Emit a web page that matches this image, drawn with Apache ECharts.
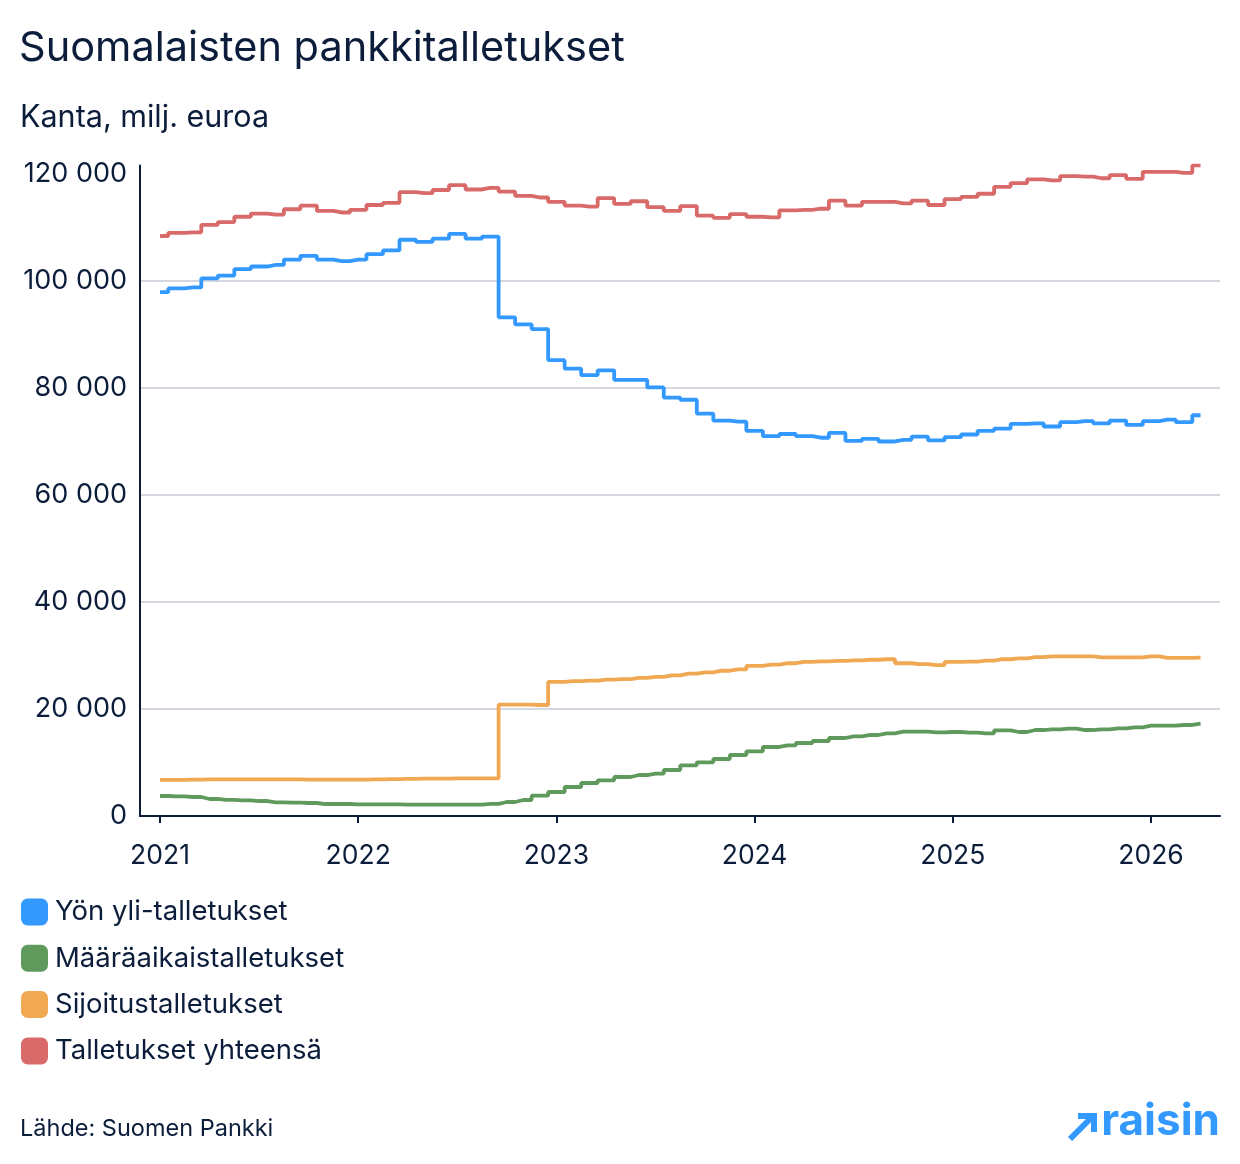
<!DOCTYPE html>
<html><head><meta charset="utf-8">
<script src="https://cdn.jsdelivr.net/npm/echarts@6/dist/echarts.min.js"></script>
<style>html,body{margin:0;padding:0;background:#fff}#c{width:1240px;height:1164px}</style>
</head><body><div id="c"></div>
<script>
// Monthly, Jan 2021 .. Apr 2026 (64 months)
const startYear = 2021;
const yearTicks = [2021, 2022, 2023, 2024, 2025, 2026];
const yTicks = [0, 20000, 40000, 60000, 80000, 100000, 120000];
const seriesNames = ['Yön yli-talletukset', 'Määräaikaistalletukset', 'Sijoitustalletukset', 'Talletukset yhteensä'];

const yonYli = [97900,98600,98800,100500,101000,102200,102700,103000,104000,104700,
  104000,103700,104000,105000,105700,107700,107300,107900,108800,107900,
  108300,93200,91900,91000,85200,83600,82400,83300,81500,81500,
  80100,78200,77800,75200,73900,73700,72000,71000,71400,71000,
  70700,71600,70100,70500,70000,70300,70900,70200,70800,71300,
  72000,72400,73300,73400,72800,73600,73800,73400,73900,73100,
  73800,74100,73600,74900];
const maaraaikais = [3740,3680,3550,3180,3000,2930,2800,2550,2490,2430,
  2240,2240,2180,2180,2180,2120,2120,2120,2120,2120,
  2250,2620,2990,3800,4490,5420,6170,6670,7290,7660,
  7910,8600,9470,10030,10650,11400,12090,12900,13210,13640,
  14020,14580,14890,15140,15450,15760,15760,15640,15700,15580,
  15450,16010,15700,16070,16200,16320,16070,16200,16390,16570,
  16880,16880,17010,17260];
const sijoitus = [6750,6750,6800,6850,6850,6850,6850,6850,6850,6800,
  6800,6800,6800,6850,6900,6950,7000,7000,7050,7050,
  7050,20800,20800,20750,25050,25200,25300,25500,25600,25800,
  26000,26300,26600,26850,27150,27400,28050,28300,28550,28800,
  28900,29000,29100,29200,29300,28550,28400,28200,28800,28850,
  29050,29300,29450,29700,29850,29850,29850,29650,29650,29650,
  29850,29550,29550,29600];
const yhteensa = [108400,109000,109100,110500,111000,112000,112600,112400,113400,114100,
  113100,112800,113300,114200,114600,116600,116400,117000,117900,117100,
  117400,116700,115900,115600,114800,114100,113900,115500,114400,114900,
  113800,113100,114000,112200,111800,112500,112000,111900,113200,113300,
  113500,115000,114100,114800,114800,114500,115000,114200,115300,115700,
  116300,117600,118300,119000,118800,119600,119500,119200,119800,119100,
  120400,120400,120200,121600];

const colors = ['#3399ff', '#5f9a5c', '#f0a852', '#d96a6a'];
const navy = '#0c1d3b';
const FONT = 'Inter';

const toXY = arr => arr.map((v, i) => [startYear + i / 12, v]);
const fmt = v => String(v).replace(/\B(?=(\d{3})+(?!\d))/g, ' ');

const chart = echarts.init(document.getElementById('c'), null, {renderer: 'canvas'});
const dataSets = [yonYli, maaraaikais, sijoitus, yhteensa];

chart.setOption({
  animation: false,
  backgroundColor: '#fff',
  textStyle: {fontFamily: FONT},
  title: [
    {text: 'Suomalaisten pankkitalletukset', left: 19, top: 28, padding: 0,
     textStyle: {fontFamily: FONT, fontSize: 41.5, fontWeight: 400, color: navy}},
    {text: 'Kanta, milj. euroa', left: 20, top: 102, padding: 0,
     textStyle: {fontFamily: FONT, fontSize: 30.5, fontWeight: 400, color: navy}},
    {text: 'Lähde: Suomen Pankki', left: 20, top: 1117, padding: 0,
     textStyle: {fontFamily: FONT, fontSize: 23.5, fontWeight: 400, color: navy}}
  ],
  legend: {
    orient: 'vertical', left: 21, top: 898, padding: 0,
    itemWidth: 27, itemHeight: 27, itemGap: 18.3,
    icon: 'roundRect',
    data: seriesNames,
    textStyle: {fontFamily: FONT, fontSize: 27.5, color: navy, padding: [0, 0, 0, 2]}
  },
  grid: {left: 140, right: 20, top: 165.4, bottom: 348, containLabel: false},
  xAxis: {
    type: 'value',
    min: startYear - 20 / 198.2,
    max: startYear + 1060 / 198.2,
    axisLine: {show: true, lineStyle: {color: navy, width: 2}},
    axisTick: {show: true, customValues: yearTicks, length: 7, lineStyle: {color: navy, width: 2}},
    axisLabel: {customValues: yearTicks, formatter: v => String(Math.round(v)),
      fontFamily: FONT, fontSize: 26.5, color: navy, margin: 27},
    splitLine: {show: false}
  },
  yAxis: {
    type: 'value', min: 0, max: 121600,
    axisLine: {show: true, lineStyle: {color: navy, width: 2}},
    axisTick: {show: false, customValues: yTicks},
    axisLabel: {customValues: yTicks, formatter: v => fmt(v), fontFamily: FONT, fontSize: 27, color: navy, margin: 13,
      padding: [3, 0, 0, 0]},
    splitLine: {show: true, customValues: yTicks, showMaxLine: false, lineStyle: {color: '#c8cbd6', width: 1.5}}
  },
  series: dataSets.map((d, k) => ({
    name: seriesNames[k],
    type: 'line',
    step: 'middle',
    showSymbol: false,
    symbol: 'none',
    data: toXY(d),
    color: colors[k],
    itemStyle: {color: colors[k]},
    lineStyle: {color: colors[k], width: 3.8},
    z: k === 3 ? 3 : 2
  })),
  graphic: [
    {type: 'polyline', shape: {points: [[1070, 1139], [1092, 1117]]},
     style: {stroke: '#3399ff', lineWidth: 6, fill: null}},
    {type: 'polyline', shape: {points: [[1078, 1116], [1094, 1116], [1094, 1132]]},
     style: {stroke: '#3399ff', lineWidth: 6, fill: null, lineJoin: 'miter'}},
    {type: 'text', right: 20, top: 1100,
     style: {text: 'raisin', fontFamily: FONT, fontSize: 44, fontWeight: 700, fill: '#3399ff'}}
  ]
});
</script>
</body></html>
